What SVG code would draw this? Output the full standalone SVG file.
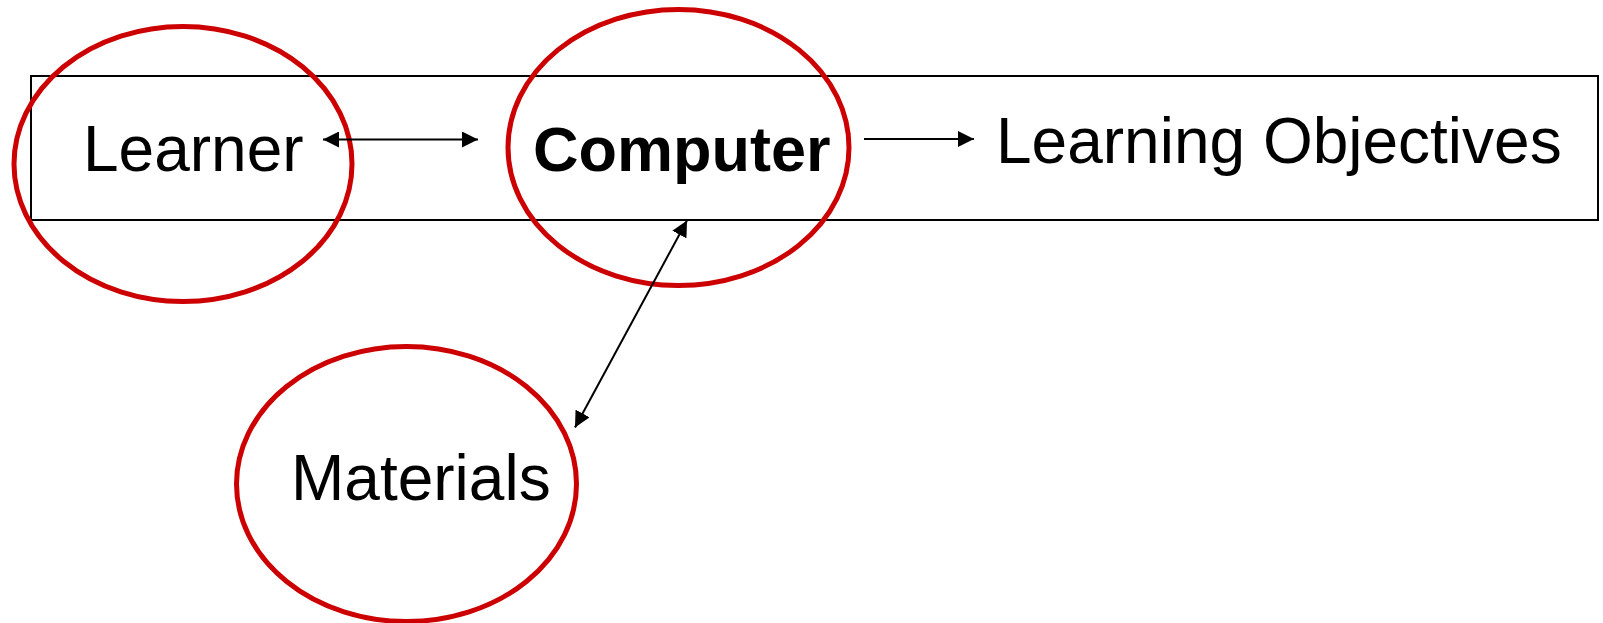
<svg xmlns="http://www.w3.org/2000/svg" width="1603" height="623" viewBox="0 0 1603 623">
  <style>
    .frame { fill: none; stroke: #000; stroke-width: 2; }
    .ring { fill: none; stroke: #cc0000; stroke-width: 5; }
    .label { font-family: "Liberation Sans", Arial, sans-serif; font-size: 64px; fill: #000; }
    .bold { font-weight: bold; font-size: 63px; }
    .link { fill: none; stroke: #000; stroke-width: 2; }
  </style>
  <defs>
    <marker id="head" markerUnits="userSpaceOnUse" markerWidth="16" markerHeight="16" viewBox="0 0 16 16" refX="16" refY="8" orient="auto-start-reverse">
      <path d="M0,0 L16,8 L0,16 Z" fill="#000"/>
    </marker>
  </defs>

  <rect id="frame" class="frame" x="31" y="76" width="1567" height="144"/>

  <g id="learner">
    <ellipse class="ring" cx="183" cy="164" rx="169" ry="137.5"/>
    <text class="label" x="83" y="170.5">Learner</text>
  </g>

  <g id="computer">
    <ellipse class="ring" cx="678.5" cy="147.5" rx="170.5" ry="138"/>
    <text class="label bold" x="533" y="170.5">Computer</text>
  </g>

  <g id="objectives">
    <text class="label" x="996" y="163">Learning Objectives</text>
  </g>

  <g id="materials">
    <ellipse class="ring" cx="406.5" cy="484" rx="170" ry="137.5"/>
    <text class="label" x="291" y="500">Materials</text>
  </g>

  <g id="connectors">
    <line class="link" x1="323" y1="139.5" x2="478" y2="139.5" marker-start="url(#head)" marker-end="url(#head)"/>
    <line class="link" x1="864" y1="139" x2="974" y2="139" marker-end="url(#head)"/>
    <line class="link" x1="575" y1="427.5" x2="687" y2="220.5" marker-start="url(#head)" marker-end="url(#head)"/>
  </g>
</svg>
